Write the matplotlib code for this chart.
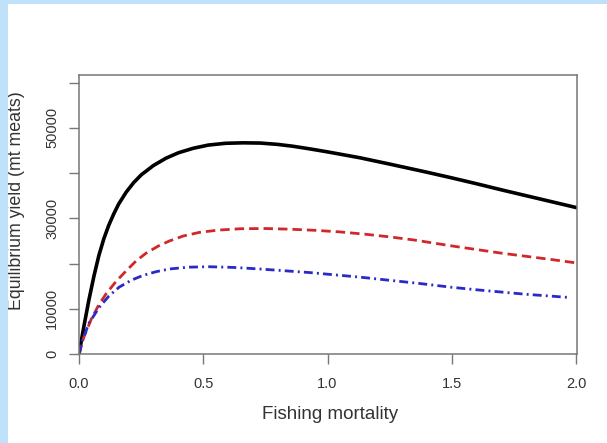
import matplotlib
matplotlib.use("Agg")
import matplotlib.pyplot as plt

# fishing mortality and equilibrium yield
f_black = [0.0, 0.02, 0.04, 0.06, 0.08, 0.1, 0.12, 0.14, 0.16, 0.19, 0.22, 0.25, 0.3, 0.35, 0.4, 0.46, 0.52, 0.59, 0.66, 0.73, 0.8, 0.86, 0.93, 1.0, 1.13, 1.25, 1.4, 1.5, 1.6, 1.7, 1.8, 1.9, 2.0]
y_black = [0, 6200, 12000, 17200, 21800, 25500, 28500, 31000, 33200, 35800, 37900, 39600, 41700, 43300, 44500, 45500, 46200, 46600, 46700, 46650, 46350, 45950, 45350, 44700, 43400, 42000, 40200, 38950, 37650, 36300, 35000, 33700, 32400]

f_red = [0.0, 0.02, 0.05, 0.08, 0.11, 0.15, 0.19, 0.23, 0.27, 0.32, 0.364, 0.42, 0.485, 0.56, 0.65, 0.75, 0.85, 0.95, 1.05, 1.15, 1.25, 1.35, 1.5, 1.6, 1.7, 1.8, 1.9, 2.0]
y_red = [0, 3800, 7800, 10900, 13400, 16100, 18400, 20600, 22300, 23900, 25000, 26100, 26900, 27400, 27700, 27750, 27600, 27350, 27000, 26500, 25900, 25200, 23900, 23100, 22300, 21600, 20900, 20150]

f_blue = [0.0, 0.013, 0.04, 0.081, 0.12, 0.162, 0.21, 0.256, 0.31, 0.364, 0.44, 0.525, 0.62, 0.727, 0.83, 0.93, 1.03, 1.13, 1.25, 1.37, 1.5, 1.6, 1.7, 1.8, 1.9, 1.97]
y_blue = [0, 2900, 6800, 10300, 12800, 14800, 16300, 17350, 18200, 18800, 19200, 19300, 19150, 18800, 18400, 18000, 17500, 17000, 16300, 15600, 14750, 14200, 13700, 13200, 12800, 12500]

y_ticks = [0, 10000, 20000, 30000, 40000, 50000, 60000]
y_ticklabels = ["0", "10000", "", "30000", "", "50000", ""]
x_ticks = [0.0, 0.5, 1.0, 1.5, 2.0]
x_ticklabels = ["0.0", "0.5", "1.0", "1.5", "2.0"]

plt.rcParams['font.family'] = ['Liberation Sans', 'DejaVu Sans']

fig = plt.figure(figsize=(6.07, 4.43), dpi=100)
fig.patch.set_facecolor('white')

# light blue frame strips on the left and top of the picture
fig.patches.append(plt.Rectangle((0, 0), 8 / 607, 1, transform=fig.transFigure,
                                 facecolor='#bfe1f9', edgecolor='none'))
fig.patches.append(plt.Rectangle((0, 1 - 3.5 / 443), 1, 3.5 / 443, transform=fig.transFigure,
                                 facecolor='#bfe1f9', edgecolor='none'))

ax = fig.add_axes([79 / 607, 89 / 443, 498 / 607, 279 / 443])

ax.plot(f_black, y_black, color='black', lw=2.6, solid_capstyle='round', solid_joinstyle='round')
ax.plot(f_red, y_red, color='#d02828', lw=2.0, dashes=(3.4, 1.8))
ax.plot(f_blue, y_blue, color='#2a2ac8', lw=2.0, dashes=(3.2, 1.5, 0.7, 1.5))

ax.set_xlim(0, 2.004)
ax.set_ylim(0, 61700)

ax.set_xticks(x_ticks)
ax.set_xticklabels(x_ticklabels, fontsize=10.5, color='#333333')
ax.set_yticks(y_ticks)
ax.set_yticklabels(y_ticklabels, fontsize=10.5, color='#333333', rotation=90, va='center')

ax.tick_params(axis='both', direction='out', length=7.2, width=1.0, color='#777777')
ax.tick_params(axis='x', pad=9)
ax.tick_params(axis='y', pad=7)

for s in ax.spines.values():
    s.set_color('#777777')
    s.set_linewidth(1.1)

ax.set_xlabel("Fishing mortality", fontsize=13.5, color='#333333')
ax.xaxis.set_label_coords(0.504, -0.2186)
ax.xaxis.label.set_va('center')
ax.set_ylabel("Equilibrium yield (mt meats)", fontsize=12.8, color='#333333')
ax.yaxis.set_label_coords(-0.1245, 0.548)
ax.yaxis.label.set_va('center')

fig.savefig("out.png", dpi=100)
